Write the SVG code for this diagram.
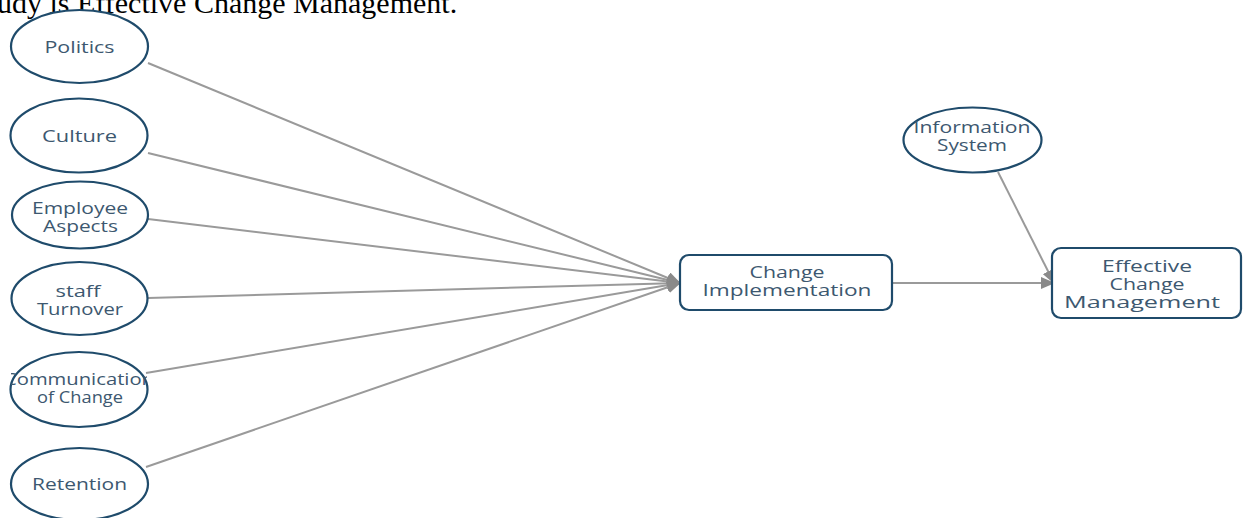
<svg xmlns="http://www.w3.org/2000/svg" width="1243" height="518" viewBox="0 0 1243 518">
<style>
.el{fill:#fff;stroke:#1f4b6b;stroke-width:2.2}
.bx{fill:#fff;stroke:#1f4b6b;stroke-width:2.2}
.t{font-family:"Open Sans","DejaVu Sans",sans-serif;font-size:16px;fill:#3d5870;text-anchor:middle}
.c{stroke:#9a9a9a;stroke-width:2;fill:none}
.cap{font-family:"Liberation Serif","Times New Roman",serif;font-size:30px;fill:#000}
</style>
<defs>
<marker id="ah" markerUnits="userSpaceOnUse" markerWidth="14" markerHeight="12" refX="13" refY="6" orient="auto">
<path d="M0,0 L14,6 L0,12 Z" fill="#8a8a8a"/>
</marker>
<clipPath id="cc"><rect x="11" y="340" width="136" height="100"/></clipPath>
</defs>
<text class="cap" x="-3" y="13">udy is Effective Change Management.</text>
<g id="connectors">
<line class="c" x1="148" y1="63" x2="680" y2="283" marker-end="url(#ah)"/>
<line class="c" x1="148" y1="153" x2="680" y2="283" marker-end="url(#ah)"/>
<line class="c" x1="148" y1="219" x2="680" y2="283" marker-end="url(#ah)"/>
<line class="c" x1="148" y1="298" x2="680" y2="283" marker-end="url(#ah)"/>
<line class="c" x1="146" y1="373" x2="680" y2="283" marker-end="url(#ah)"/>
<line class="c" x1="146" y1="467" x2="680" y2="283" marker-end="url(#ah)"/>
<line class="c" x1="892" y1="283" x2="1054" y2="283" marker-end="url(#ah)"/>
<line class="c" x1="998" y1="172" x2="1054" y2="283" marker-end="url(#ah)"/>
</g>
<g id="politics"><ellipse class="el" cx="79.5" cy="46.5" rx="68.5" ry="36.5"/><text class="t" x="79.5" y="53" textLength="70" lengthAdjust="spacingAndGlyphs">Politics</text></g>
<g id="culture"><ellipse class="el" cx="79" cy="135.5" rx="68.5" ry="37"/><text class="t" x="79.5" y="142" textLength="75" lengthAdjust="spacingAndGlyphs">Culture</text></g>
<g id="employee"><ellipse class="el" cx="80" cy="215" rx="68" ry="33.5"/><text class="t" x="80" y="214" textLength="96" lengthAdjust="spacingAndGlyphs">Employee</text><text class="t" x="80.5" y="232" textLength="75" lengthAdjust="spacingAndGlyphs">Aspects</text></g>
<g id="staff"><ellipse class="el" cx="79.5" cy="298.5" rx="68" ry="36.5"/><text class="t" x="78" y="297" textLength="45" lengthAdjust="spacingAndGlyphs">staff</text><text class="t" x="80" y="315" textLength="86" lengthAdjust="spacingAndGlyphs">Turnover</text></g>
<g id="communication"><ellipse class="el" cx="79" cy="389.5" rx="68.5" ry="37.5"/><text class="t" x="79" y="385" textLength="150" lengthAdjust="spacingAndGlyphs" clip-path="url(#cc)">Communication</text><text class="t" x="80" y="403" textLength="86" lengthAdjust="spacingAndGlyphs">of Change</text></g>
<g id="retention"><ellipse class="el" cx="79.5" cy="484" rx="68.5" ry="36"/><text class="t" x="79.5" y="490" textLength="95" lengthAdjust="spacingAndGlyphs">Retention</text></g>
<g id="change-implementation"><rect class="bx" x="680" y="255" width="212" height="55" rx="9"/><text class="t" x="787" y="278" textLength="75" lengthAdjust="spacingAndGlyphs">Change</text><text class="t" x="787" y="296" textLength="169" lengthAdjust="spacingAndGlyphs">Implementation</text></g>
<g id="information-system"><ellipse class="el" cx="972.5" cy="140" rx="69" ry="32.5"/><text class="t" x="972" y="133" textLength="117" lengthAdjust="spacingAndGlyphs">Information</text><text class="t" x="972" y="151" textLength="70" lengthAdjust="spacingAndGlyphs">System</text></g>
<g id="effective-change-management"><rect class="bx" x="1052" y="248" width="189" height="70" rx="9"/><text class="t" x="1147" y="272" textLength="90" lengthAdjust="spacingAndGlyphs">Effective</text><text class="t" x="1147" y="290" textLength="75" lengthAdjust="spacingAndGlyphs">Change</text><text class="t" x="1142" y="308" textLength="156" lengthAdjust="spacingAndGlyphs">Management</text></g>
</svg>
